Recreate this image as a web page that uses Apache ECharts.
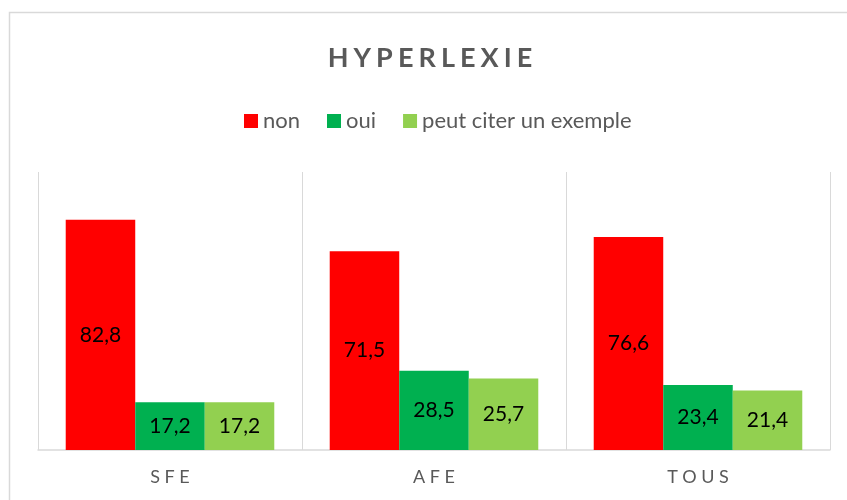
<!DOCTYPE html>
<html>
<head>
<meta charset="utf-8">
<script src="https://cdn.jsdelivr.net/npm/echarts@6/dist/echarts.min.js"></script>
<style>
html,body{margin:0;padding:0;background:#fff;}
#chart{width:847px;height:500px;}
</style>
</head>
<body>
<div id="chart"></div>
<script>
var titleText = 'HYPERLEXIE';
var categories = ['SFE', 'AFE', 'TOUS'];
var seriesNames = ['non', 'oui', 'peut citer un exemple'];
var nonValues = [82.8, 71.5, 76.6];
var ouiValues = [17.2, 28.5, 23.4];
var exempleValues = [17.2, 25.7, 21.4];
var colors = ['#ff0000', '#00b050', '#92d050'];

function spaced(s, sp) { return s.split('').join(sp); }
var TS = '\u2009';
var FONT = 'Lato, "Open Sans", sans-serif';

var chart = echarts.init(document.getElementById('chart'), null, {renderer: 'canvas'});

function mkSeries(name, data, color) {
  return {
    name: name,
    type: 'bar',
    data: data,
    barGap: '0%',
    barCategoryGap: '21%',
    itemStyle: {color: color},
    label: {
      show: true,
      position: 'inside',
      color: '#000',
      fontSize: 21,
      fontFamily: FONT,
      formatter: function (p) { return String(p.value.toFixed(1)).replace('.', ','); }
    }
  };
}

chart.setOption({
  animation: false,
  backgroundColor: '#fff',
  color: colors,
  graphic: [{
    type: 'rect',
    shape: {x: 9.5, y: 12.5, width: 860, height: 520},
    style: {fill: 'none', stroke: '#d9d9d9', lineWidth: 1.5},
    z: -1
  }],
  title: {
    text: spaced(titleText, TS + '\u200A'),
    left: 425,
    textAlign: 'center',
    top: 40,
    textStyle: {fontSize: 27, fontWeight: 'bold', color: '#595959', fontFamily: FONT}
  },
  legend: {
    left: 244,
    top: 110,
    padding: 0,
    itemWidth: 14,
    itemHeight: 14,
    itemGap: 27,
    icon: 'rect',
    textStyle: {fontSize: 22, color: '#595959', fontFamily: FONT},
    data: seriesNames
  },
  grid: {left: 38, right: 17, top: 172, bottom: 50, containLabel: false},
  xAxis: {
    type: 'category',
    data: categories.map(function (c) { return spaced(c, TS + TS); }),
    axisLine: {show: true, lineStyle: {color: '#d9d9d9', width: 1.5}},
    axisTick: {show: false},
    splitLine: {show: true, lineStyle: {color: '#d9d9d9', width: 1}},
    axisLabel: {color: '#595959', fontSize: 18, fontFamily: FONT, margin: 18}
  },
  yAxis: {
    type: 'value',
    min: 0,
    max: 100,
    show: false,
    splitLine: {show: false}
  },
  series: [
    mkSeries(seriesNames[0], nonValues, colors[0]),
    mkSeries(seriesNames[1], ouiValues, colors[1]),
    mkSeries(seriesNames[2], exempleValues, colors[2])
  ]
});
</script>
</body>
</html>
